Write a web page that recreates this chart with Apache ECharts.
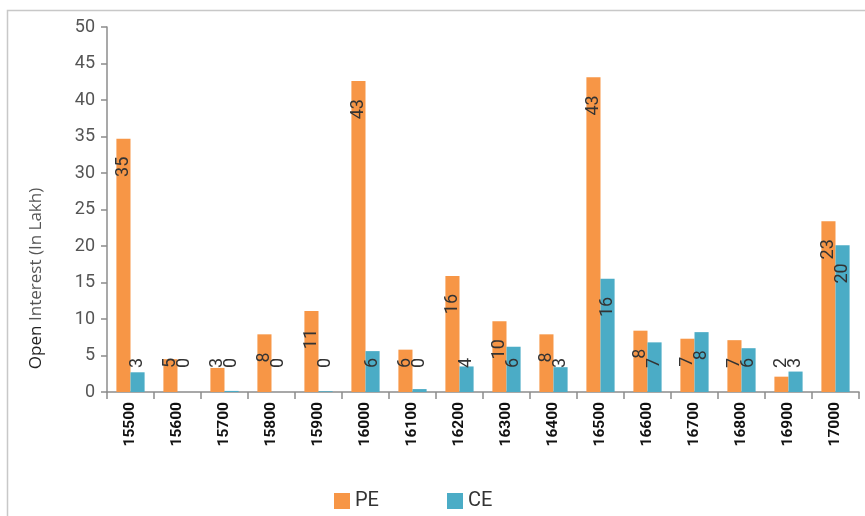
<!DOCTYPE html>
<html>
<head>
<meta charset="utf-8">
<script src="https://cdn.jsdelivr.net/npm/echarts@6/dist/echarts.min.js"></script>
<style>
  html, body { margin: 0; padding: 0; background: #fff; }
  #chart { width: 865px; height: 516px; }
</style>
</head>
<body>
<div id="chart"></div>
<script>
var strikes = ['15500', '15600', '15700', '15800', '15900', '16000', '16100', '16200',
  '16300', '16400', '16500', '16600', '16700', '16800', '16900', '17000']
var peOI = [34.7, 4.5, 3.3, 7.9, 11.1, 42.6, 5.8, 15.9, 9.7, 7.9, 43.1, 8.4, 7.3, 7.1, 2.1, 23.4]
var ceOI = [2.7, 0, 0.15, 0, 0.1, 5.6, 0.4, 3.5, 6.2, 3.4, 15.5, 6.8, 8.2, 6.0, 2.8, 20.1]
var yTicks = [0, 5, 10, 15, 20, 25, 30, 35, 40, 45, 50]

var numFont = 'Roboto, sans-serif'

function barLabel() {
  return {
    show: true,
    rotate: 90,
    color: '#333',
    fontSize: 18,
    fontFamily: numFont,
    formatter: function(p) { return Math.round(p.value) }
  }
}

// put label just under the bar top, but never lower than ~24px above the axis
function placeLabel(p) {
  var r = p.rect
  var len = p.labelRect.height
  var cx = r.x + r.width / 2
  var bottom = r.y + r.height
  var top = r.y + 18
  if (top + len > bottom - 24) {
    top = bottom - 24 - len
  }
  return {
    x: cx,
    y: top + len / 2,
    align: 'center',
    verticalAlign: 'middle'
  }
}

var chart = echarts.init(document.getElementById('chart'))
var option = {
  animation: false,
  grid: {
    top: 27,
    bottom: 124,
    left: 107,
    right: 6,
    containLabel: false
  },
  graphic: [{
    type: 'rect',
    shape: { x: 7.5, y: 10.5, width: 900, height: 600 },
    style: { fill: 'none', stroke: '#c8c8c8', lineWidth: 1.5 },
    silent: true
  }],
  legend: {
    left: 329,
    top: 486,
    itemWidth: 16,
    itemHeight: 16,
    itemGap: 68,
    icon: 'rect',
    textStyle: {
      fontSize: 20,
      color: '#333',
      fontFamily: numFont
    },
    data: ['PE', 'CE']
  },
  xAxis: {
    type: 'category',
    data: strikes,
    axisLine: { lineStyle: { color: '#8c8c8c', width: 1.5 } },
    axisTick: { show: true, length: 7, lineStyle: { color: '#8c8c8c', width: 1.5 } },
    axisLabel: {
      rotate: 90,
      margin: 10,
      color: '#111',
      fontWeight: 'bold',
      fontSize: 15.5,
      fontFamily: 'Roboto, sans-serif',
      interval: 0
    },
    splitLine: { show: false }
  },
  yAxis: {
    type: 'value',
    min: yTicks[0],
    max: yTicks[yTicks.length - 1],
    interval: 5,
    name: '{a|Open} {b|Interest (In Lakh)}',
    nameLocation: 'middle',
    nameGap: 62,
    nameTextStyle: {
      fontSize: 17,
      padding: [0, 138, 0, 0],
      rich: {
        a: { fontSize: 17, color: '#222', fontFamily: '"Open Sans", sans-serif' },
        b: { fontSize: 17, color: '#555', fontFamily: '"Open Sans", sans-serif' }
      }
    },
    axisLine: { show: true, lineStyle: { color: '#8c8c8c', width: 1.5 } },
    axisTick: { show: true, length: 6, lineStyle: { color: '#8c8c8c', width: 1.5 } },
    axisLabel: {
      margin: 12,
      color: '#555',
      fontSize: 18,
      fontFamily: numFont
    },
    splitLine: { show: false }
  },
  series: [
    {
      name: 'PE',
      type: 'bar',
      data: peOI,
      barGap: 0,
      barCategoryGap: '40%',
      itemStyle: { color: '#f79646' },
      label: barLabel(),
      labelLayout: placeLabel
    },
    {
      name: 'CE',
      type: 'bar',
      data: ceOI,
      itemStyle: { color: '#4bacc6' },
      label: barLabel(),
      labelLayout: placeLabel
    }
  ]
}
chart.setOption(option)
</script>
</body>
</html>
